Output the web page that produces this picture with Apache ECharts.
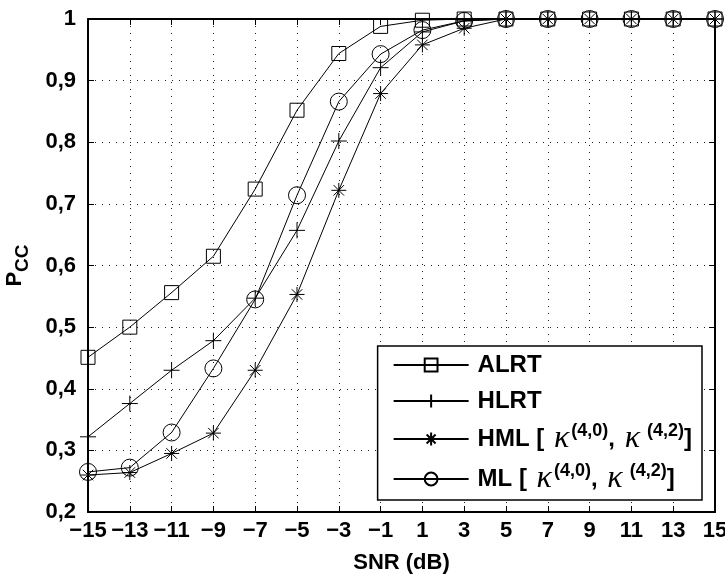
<!DOCTYPE html>
<html>
<head>
<meta charset="utf-8">
<script src="https://cdn.jsdelivr.net/npm/echarts@6/dist/echarts.min.js"></script>
<style>
html,body{margin:0;padding:0;background:#fff;}
#chart{width:725px;height:577px;}
</style>
</head>
<body>
<div id="chart"></div>
<script>
var snrCategories = ['-15','-13','-11','-9','-7','-5','-3','-1','1','3','5','7','9','11','13','15'];
var alrt = [0.451, 0.500, 0.556, 0.615, 0.724, 0.852, 0.944, 0.988, 0.998, 1, 1, 1, 1, 1, 1, 1];
var hlrt = [0.322, 0.376, 0.430, 0.478, 0.547, 0.657, 0.802, 0.921, 0.979, 0.997, 1, 1, 1, 1, 1, 1];
var hml  = [0.260, 0.264, 0.295, 0.328, 0.430, 0.553, 0.722, 0.879, 0.958, 0.985, 1, 1, 1, 1, 1, 1];
var ml   = [0.265, 0.272, 0.329, 0.433, 0.545, 0.714, 0.866, 0.943, 0.982, 0.997, 1, 1, 1, 1, 1, 1];
var yTicks = {min: 0.2, max: 1, interval: 0.1};

var FONT = '"Liberation Sans", Arial, sans-serif';
var PLUS = 'path://M0,-1L0,1M-1,0L1,0';
var STAR = 'path://M0,-1L0,1M-1,0L1,0M-0.7,-0.7L0.7,0.7M-0.7,0.7L0.7,-0.7';

function mk(name, data, symbol, size) {
  return {
    name: name, type: 'line', data: data, symbol: symbol, symbolSize: size,
    showAllSymbol: true, clip: false,
    lineStyle: {color: '#000', width: 1},
    itemStyle: {color: 'rgba(255,255,255,0)', borderColor: '#000', borderWidth: 1},
    emphasis: {disabled: true},
    animation: false
  };
}

var legendLabels = {
  'ALRT': '{b|ALRT}',
  'HLRT': '{b|HLRT}',
  'HML': '{b|HML [ }{k|κ}{sup|(4,0)}{b|, }{k|κ}{sup| (4,2)}{b|]}',
  'ML': '{b|ML [ }{k|κ}{sup|(4,0)}{b|, }{k|κ}{sup| (4,2)}{b|]}'
};

var chart = echarts.init(document.getElementById('chart'), null, {renderer: 'canvas'});
var axisLine = {show: true, lineStyle: {color: '#000', width: 2}};
var gridLine = {show: true, lineStyle: {color: '#222', type: [1, 6], width: 1}};
chart.setOption({
  animation: false,
  backgroundColor: '#fff',
  grid: {left: 88, right: 10, top: 19, bottom: 65, outerBoundsMode: 'none', containLabel: false},
  xAxis: [{
    type: 'category', data: snrCategories, boundaryGap: false, position: 'bottom',
    axisLine: axisLine,
    axisTick: {show: true, inside: true, length: 6, interval: 0, lineStyle: {color: '#000'}},
    axisLabel: {color: '#000', fontFamily: FONT, fontWeight: 'bold', fontSize: 22, margin: 8, interval: 0,
      hideOverlap: false,
      formatter: function (v) { return v.replace('-', '\u2212'); }},
    splitLine: Object.assign({interval: 0}, gridLine),
    name: 'SNR (dB)', nameLocation: 'middle', nameGap: 40,
    nameTextStyle: {color: '#000', fontFamily: FONT, fontWeight: 'bold', fontSize: 22}
  }, {
    type: 'category', data: snrCategories, boundaryGap: false, position: 'top',
    axisLine: axisLine,
    axisTick: {show: true, inside: true, length: 6, interval: 0, lineStyle: {color: '#000'}},
    axisLabel: {show: false}, splitLine: {show: false}
  }],
  yAxis: [{
    type: 'value', min: yTicks.min, max: yTicks.max, interval: yTicks.interval, position: 'left',
    axisLine: axisLine,
    axisTick: {show: true, inside: true, length: 6, lineStyle: {color: '#000'}},
    axisLabel: {color: '#000', fontFamily: FONT, fontWeight: 'bold', fontSize: 22, margin: 12,
      formatter: function (v) { return String(Math.round(v * 10) / 10).replace('.', ','); }},
    splitLine: gridLine,
    name: '{p|P}{s|CC}', nameLocation: 'middle', nameRotate: 90, nameGap: 56,
    nameTextStyle: {
      rich: {
        p: {color: '#000', fontFamily: FONT, fontWeight: 'bold', fontSize: 22},
        s: {color: '#000', fontFamily: FONT, fontWeight: 'bold', fontSize: 19, padding: [16, 0, 0, 0]}
      }
    }
  }, {
    type: 'value', min: yTicks.min, max: yTicks.max, interval: yTicks.interval, position: 'right',
    axisLine: axisLine,
    axisTick: {show: true, inside: true, length: 6, lineStyle: {color: '#000'}},
    axisLabel: {show: false}, splitLine: {show: false}
  }],
  legend: {
    orient: 'vertical', right: 23, bottom: 77,
    backgroundColor: '#fff', borderColor: '#000', borderWidth: 1.5,
    padding: [4, 10, 4, 15], itemGap: 6, itemWidth: 75, itemHeight: 16,
    selectedMode: false,
    data: ['ALRT', 'HLRT', 'HML', 'ML'],
    formatter: function (n) { return legendLabels[n]; },
    textStyle: {
      color: '#000', padding: [0, 0, 0, 4], height: 30, lineHeight: 30,
      rich: {
        b: {fontFamily: FONT, fontWeight: 'bold', fontSize: 24, color: '#000', lineHeight: 30},
        k: {fontFamily: '"Liberation Serif", serif', fontStyle: 'italic', fontSize: 32, color: '#000', lineHeight: 30, padding: [0, 2, 0, 3]},
        sup: {fontFamily: FONT, fontWeight: 'bold', fontSize: 18, color: '#000', lineHeight: 14, padding: [0, 0, 16, 0]}
      }
    }
  },
  series: [
    mk('ALRT', alrt, 'rect', 14),
    mk('HLRT', hlrt, PLUS, 16),
    mk('HML', hml, STAR, 15),
    mk('ML', ml, 'circle', 17)
  ]
});
</script>
</body>
</html>
